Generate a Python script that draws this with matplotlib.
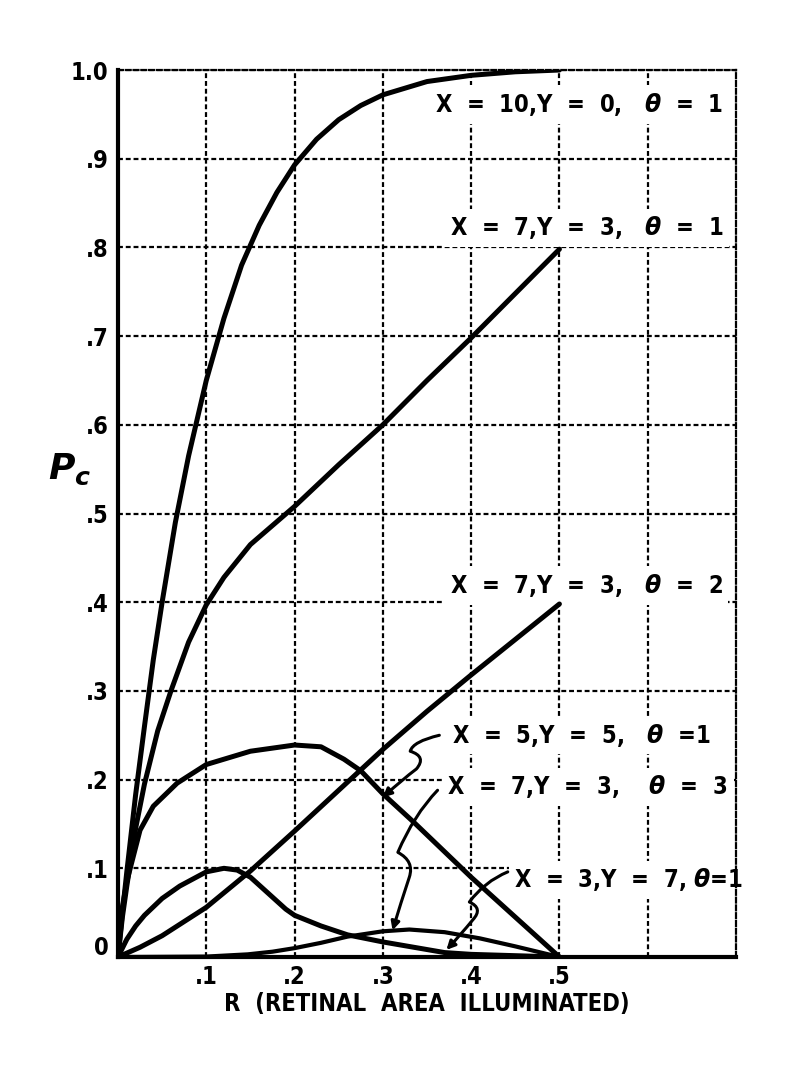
import matplotlib
matplotlib.use("Agg")
import matplotlib.pyplot as plt
from matplotlib.path import Path
from matplotlib.patches import FancyArrowPatch
import matplotlib.transforms as mtransforms

plt.rcParams['mathtext.fontset'] = 'custom'
plt.rcParams['mathtext.it'] = 'DejaVu Sans:italic:bold'
plt.rcParams['mathtext.rm'] = 'DejaVu Sans:bold'

# ---- data ----
r_10_0_1 = [0, 0.005, 0.01, 0.02, 0.03, 0.04, 0.05, 0.065, 0.08, 0.1, 0.12, 0.14, 0.16, 0.18,
            0.2, 0.225, 0.25, 0.275, 0.3, 0.35, 0.4, 0.45, 0.5]
pc_10_0_1 = [0, 0.05, 0.096, 0.183, 0.26, 0.335, 0.40, 0.49, 0.565, 0.65, 0.72, 0.78, 0.825, 0.862,
             0.893, 0.922, 0.944, 0.96, 0.972, 0.987, 0.994, 0.998, 1.0]

r_7_3_1 = [0, 0.005, 0.01, 0.02, 0.03, 0.045, 0.06, 0.08, 0.1, 0.12, 0.15, 0.2, 0.25, 0.3, 0.35,
           0.4, 0.45, 0.5]
pc_7_3_1 = [0, 0.045, 0.08, 0.145, 0.195, 0.255, 0.30, 0.355, 0.397, 0.428, 0.465, 0.508, 0.555,
            0.60, 0.65, 0.698, 0.748, 0.798]

r_7_3_2 = [0, 0.025, 0.05, 0.1, 0.15, 0.2, 0.25, 0.3, 0.35, 0.4, 0.45, 0.5]
pc_7_3_2 = [0, 0.011, 0.024, 0.056, 0.097, 0.142, 0.188, 0.234, 0.277, 0.318, 0.358, 0.398]

r_5_5_1 = [0, 0.003, 0.01, 0.025, 0.04, 0.067, 0.1, 0.15, 0.2, 0.23, 0.256, 0.275, 0.3, 0.335,
           0.4, 0.45, 0.5]
pc_5_5_1 = [0, 0.045, 0.085, 0.143, 0.17, 0.196, 0.217, 0.232, 0.239, 0.237, 0.223, 0.21, 0.184,
            0.152, 0.09, 0.045, 0]

r_7_3_3 = [0, 0.1, 0.147, 0.175, 0.2, 0.23, 0.26, 0.3, 0.33, 0.37, 0.41, 0.45, 0.5]
pc_7_3_3 = [0, 0.0005, 0.003, 0.006, 0.01, 0.016, 0.023, 0.029, 0.031, 0.028, 0.021, 0.012, 0]

r_3_7_1 = [0, 0.01, 0.02, 0.03, 0.05, 0.07, 0.1, 0.12, 0.135, 0.15, 0.17, 0.19, 0.2, 0.23, 0.26,
           0.3, 0.335, 0.37, 0.4, 0.45, 0.5]
pc_3_7_1 = [0, 0.02, 0.035, 0.047, 0.066, 0.08, 0.096, 0.1, 0.098, 0.09, 0.072, 0.054, 0.047,
            0.035, 0.025, 0.017, 0.011, 0.005, 0.003, 0.0015, 0]

x_ticks = [0.1, 0.2, 0.3, 0.4, 0.5, 0.6]
x_tick_labels = ['.1', '.2', '.3', '.4', '.5', '']
y_ticks = [0, 0.1, 0.2, 0.3, 0.4, 0.5, 0.6, 0.7, 0.8, 0.9, 1.0]
y_tick_labels = ['0', '.1', '.2', '.3', '.4', '.5', '.6', '.7', '.8', '.9', '1.0']

labels = ['X  =  10,Y  =  0,   $\\theta$  =  1',
          'X  =  7,Y  =  3,   $\\theta$  =  1',
          'X  =  7,Y  =  3,   $\\theta$  =  2',
          'X  =  5,Y  =  5,   $\\theta$  =1',
          'X  =  7,Y  =  3,    $\\theta$  =  3',
          'X  =  3,Y  =  7, $\\theta$=1']
x_label = 'R  (RETINAL  AREA  ILLUMINATED)'
y_label = '$P_c$'

# ---- figure ----
FONT = dict(family='DejaVu Sans', weight='bold', stretch='condensed')
fig = plt.figure(figsize=(8.02, 10.89), dpi=100)
ax = fig.add_axes([0.1471, 0.1212, 0.7706, 0.8145])
ax.set_xlim(0, 0.7)
ax.set_ylim(0, 1.0)

dash = (0, (2.2, 1.3))
ax.set_xticks(x_ticks)
ax.set_xticklabels(x_tick_labels)
ax.set_yticks(y_ticks)
ax.set_yticklabels(y_tick_labels)
ax.tick_params(length=0, labelsize=17)
ax.tick_params(axis='y', pad=7)
ax.tick_params(axis='x', pad=6)
for t in ax.get_xticklabels() + ax.get_yticklabels():
    t.set_fontweight('bold')
    t.set_fontstretch('condensed')
# origin label sits a little above the baseline in the original
zero_lbl = ax.yaxis.get_major_ticks()[0].label1
zero_lbl.set_transform(zero_lbl.get_transform() +
                       mtransforms.ScaledTranslation(0, 12 / 100, fig.dpi_scale_trans))

ax.grid(True, color='black', linestyle=dash, linewidth=1.6)
ax.set_axisbelow(True)

for s in ['left', 'bottom']:
    ax.spines[s].set_linewidth(3.0)
for s in ['top', 'right']:
    ax.spines[s].set_linewidth(1.6)
    ax.spines[s].set_linestyle(dash)

lw = 3.6
ax.plot(r_10_0_1, pc_10_0_1, color='black', lw=lw, zorder=3, solid_capstyle='round')
ax.plot(r_7_3_1, pc_7_3_1, color='black', lw=lw, zorder=3, solid_capstyle='round')
ax.plot(r_7_3_2, pc_7_3_2, color='black', lw=lw, zorder=3, solid_capstyle='round')
ax.plot(r_5_5_1, pc_5_5_1, color='black', lw=lw, zorder=3, solid_capstyle='round')
ax.plot(r_7_3_3, pc_7_3_3, color='black', lw=3.0, zorder=3, solid_capstyle='round')
ax.plot(r_3_7_1, pc_3_7_1, color='black', lw=lw, zorder=3, solid_capstyle='round')

# curve labels (white background breaks the grid as in the original)
label_pos = [(0.3586, 0.961), (0.3756, 0.822), (0.3756, 0.419),
             (0.378, 0.250), (0.373, 0.192), (0.449, 0.087)]
for txt, (lx, ly) in zip(labels, label_pos):
    ax.text(lx, ly, txt, fontsize=17, ha='left', va='center', zorder=2.5, clip_on=False,
            bbox=dict(facecolor='white', edgecolor='none', pad=4), **FONT)

# squiggly leader arrows
def leader(pts):
    codes = [Path.MOVETO] + [Path.CURVE3] * (len(pts) - 1)
    p = Path(pts, codes)
    arr = FancyArrowPatch(path=p, arrowstyle='-|>,head_length=5,head_width=2.5',
                          color='black', lw=2.2, transform=ax.transData, zorder=4)
    ax.add_patch(arr)

leader([(0.364, 0.250), (0.334, 0.243), (0.331, 0.232), (0.350, 0.226), (0.338, 0.212),
        (0.322, 0.200), (0.300, 0.180)])
leader([(0.362, 0.188), (0.335, 0.160), (0.317, 0.118), (0.336, 0.108), (0.330, 0.090),
        (0.320, 0.060), (0.311, 0.030)])
leader([(0.4415, 0.096), (0.415, 0.085), (0.398, 0.062), (0.414, 0.055), (0.402, 0.042),
        (0.388, 0.025), (0.372, 0.008)])

ax.set_xlabel(x_label, fontsize=17, labelpad=2, **FONT)
ax.text(-0.078, 0.55, y_label, transform=ax.transAxes, fontsize=26, ha='center', va='center')

fig.savefig('out.png', dpi=100)
